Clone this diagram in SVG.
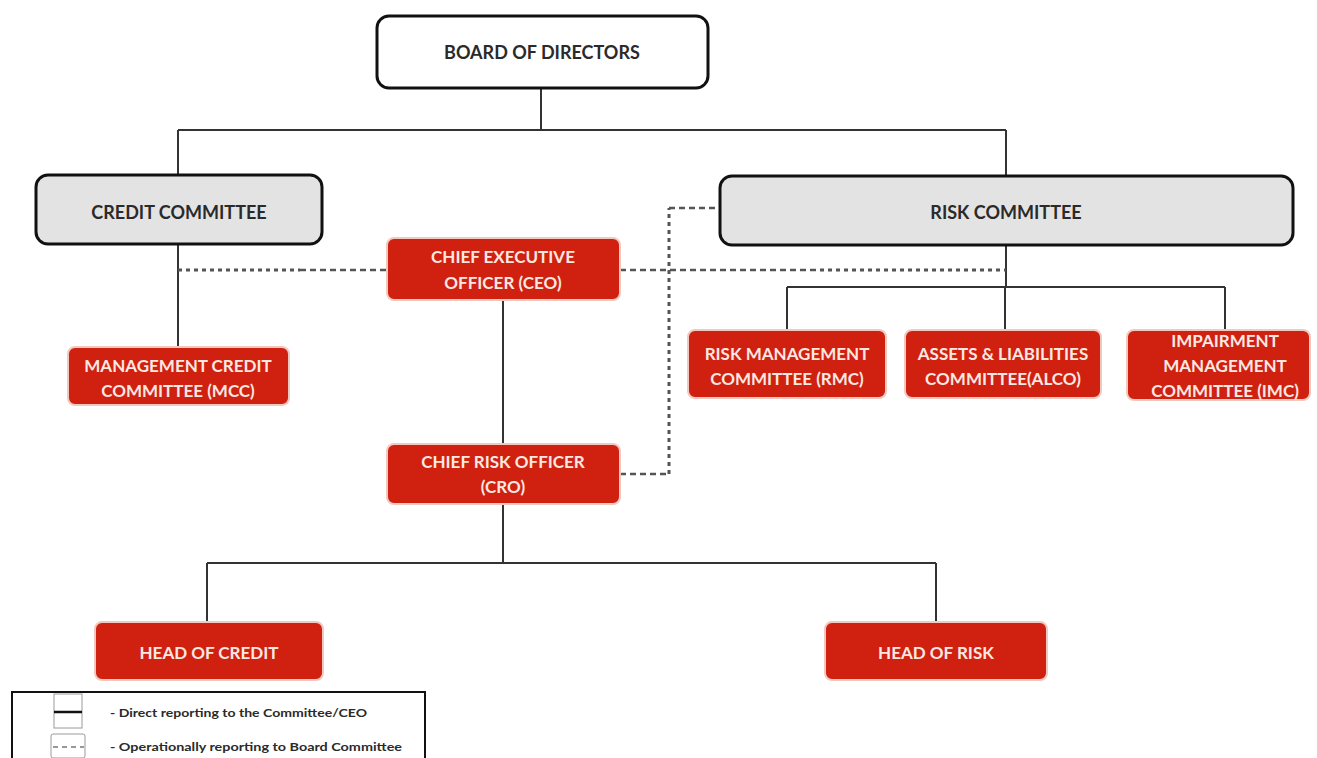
<svg xmlns="http://www.w3.org/2000/svg" width="1317" height="758" viewBox="0 0 1317 758">
  <style>
    .board { fill: #ffffff; stroke: #111111; stroke-width: 3; }
    .committee { fill: #e3e3e3; stroke: #111111; stroke-width: 3; }
    .unit { fill: #d0200f; stroke: #f1c9c0; stroke-width: 2; }
    .dark { font-family: Lato, "Liberation Sans", sans-serif; font-weight: bold; font-size: 18px; fill: #2a2a2a; text-anchor: middle; }
    .light { font-family: Lato, "Liberation Sans", sans-serif; font-weight: bold; font-size: 17px; fill: #fbe8e2; text-anchor: middle; }
    .solid { fill: none; stroke: #333333; stroke-width: 2; }
    .dash { fill: none; stroke: #555555; stroke-width: 2.5; stroke-dasharray: 6 4; }
    .dot { fill: none; stroke: #555555; stroke-width: 3; stroke-dasharray: 4 4; }
    .legend-text { font-family: Lato, "Liberation Sans", sans-serif; font-weight: bold; font-size: 12px; fill: #2a2a2a; }
  </style>

  <!-- connectors -->
  <g id="connectors">
    <!-- board to committees -->
    <path class="solid" d="M541 88 V130 M178 130 H1006 M178 130 V175 M1006 130 V176"/>
    <!-- credit committee to MCC -->
    <path class="solid" d="M178 244 V347"/>
    <!-- risk committee to sub-committees -->
    <path class="solid" d="M1006 245 V287 M787 287 H1225 M787 287 V330 M1005 287 V330 M1225 287 V330"/>
    <!-- CEO to CRO -->
    <path class="solid" d="M503 300 V444"/>
    <!-- CRO to heads -->
    <path class="solid" d="M503 504 V563 M207 563 H936 M207 563 V622 M936 563 V622"/>
    <!-- CEO operational links to both committees -->
    <path class="dot" d="M178 270 H300"/>
    <path class="dash" d="M300 270 H387 M620 270 H820"/>
    <path class="dot" d="M820 270 H1006"/>
    <!-- CRO operational link to risk committee -->
    <path class="dash" d="M620 474 H669"/>
    <path class="dot" d="M669 474 V208"/>
    <path class="dash" d="M669 208 H720"/>
  </g>

  <g id="board">
    <rect class="board" x="377" y="16" width="331" height="72" rx="12"/>
    <text class="dark" x="542" y="59">BOARD OF DIRECTORS</text>
  </g>

  <g id="credit-committee">
    <rect class="committee" x="36" y="175" width="286" height="69" rx="12"/>
    <text class="dark" x="179" y="219">CREDIT COMMITTEE</text>
  </g>

  <g id="risk-committee">
    <rect class="committee" x="720" y="176" width="573" height="69" rx="12"/>
    <text class="dark" x="1006" y="219">RISK COMMITTEE</text>
  </g>

  <g id="ceo">
    <rect class="unit" x="387" y="238" width="233" height="62" rx="7"/>
    <text class="light" x="503" y="263">CHIEF EXECUTIVE</text>
    <text class="light" x="503" y="289">OFFICER (CEO)</text>
  </g>

  <g id="mcc">
    <rect class="unit" x="68" y="347" width="221" height="58" rx="7"/>
    <text class="light" x="178" y="372">MANAGEMENT CREDIT</text>
    <text class="light" x="178" y="397">COMMITTEE (MCC)</text>
  </g>

  <g id="rmc">
    <rect class="unit" x="688" y="330" width="198" height="68" rx="7"/>
    <text class="light" x="787" y="360">RISK MANAGEMENT</text>
    <text class="light" x="787" y="385">COMMITTEE (RMC)</text>
  </g>

  <g id="alco">
    <rect class="unit" x="905" y="330" width="196" height="68" rx="7"/>
    <text class="light" x="1003" y="360">ASSETS &amp; LIABILITIES</text>
    <text class="light" x="1003" y="385">COMMITTEE(ALCO)</text>
  </g>

  <g id="imc">
    <rect class="unit" x="1127" y="330" width="183" height="70" rx="7"/>
    <text class="light" x="1225" y="347">IMPAIRMENT</text>
    <text class="light" x="1225" y="372">MANAGEMENT</text>
    <text class="light" x="1225" y="397">COMMITTEE (IMC)</text>
  </g>

  <g id="cro">
    <rect class="unit" x="387" y="444" width="233" height="60" rx="7"/>
    <text class="light" x="503" y="468">CHIEF RISK OFFICER</text>
    <text class="light" x="503" y="493">(CRO)</text>
  </g>

  <g id="head-of-credit">
    <rect class="unit" x="95" y="622" width="228" height="58" rx="7"/>
    <text class="light" x="209" y="659">HEAD OF CREDIT</text>
  </g>

  <g id="head-of-risk">
    <rect class="unit" x="825" y="622" width="222" height="58" rx="7"/>
    <text class="light" x="936" y="659">HEAD OF RISK</text>
  </g>

  <g id="legend">
    <rect x="12" y="692" width="413" height="80" fill="#ffffff" stroke="#111111" stroke-width="2"/>
    <rect x="54" y="694" width="28" height="34" fill="none" stroke="#9a9a9a" stroke-width="1"/>
    <line x1="54" y1="712" x2="82" y2="712" stroke="#111111" stroke-width="2.5"/>
    <rect x="51" y="734" width="34" height="24" rx="2" fill="none" stroke="#9a9a9a" stroke-width="1"/>
    <line x1="53" y1="747" x2="84" y2="747" stroke="#777777" stroke-width="1.5" stroke-dasharray="5 4"/>
    <text class="legend-text" x="110" y="717" textLength="257" lengthAdjust="spacingAndGlyphs">- Direct reporting to the Committee/CEO</text>
    <text class="legend-text" x="110" y="751" textLength="292" lengthAdjust="spacingAndGlyphs">- Operationally reporting to Board Committee</text>
  </g>
</svg>
